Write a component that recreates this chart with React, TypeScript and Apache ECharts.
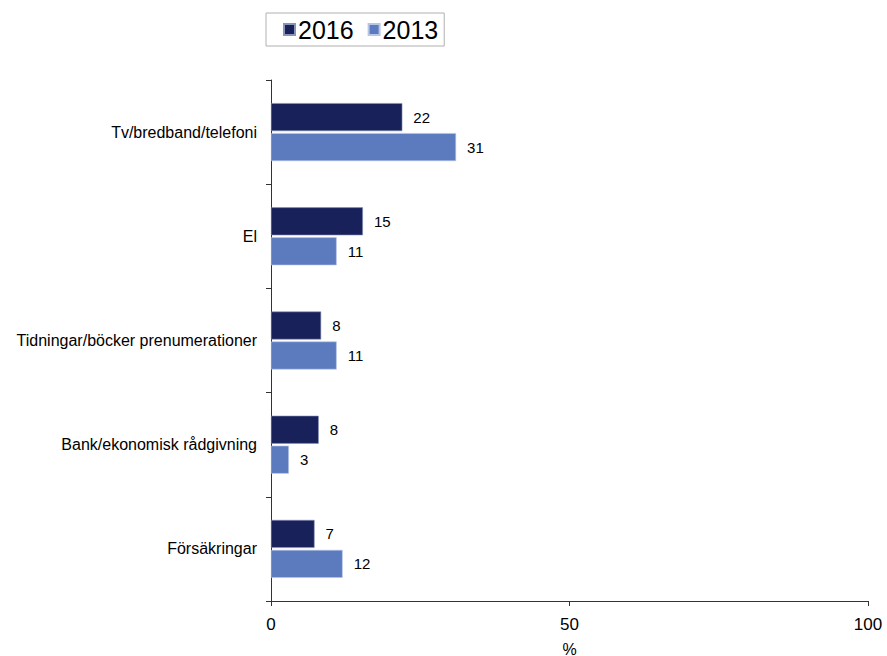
import React, { useEffect, useRef } from "react";
import * as echarts from "echarts";

const categories = [
  "Tv/bredband/telefoni",
  "El",
  "Tidningar/böcker prenumerationer",
  "Bank/ekonomisk rådgivning",
  "Försäkringar",
];
const values2016 = [22, 15.4, 8.4, 8, 7.3];
const values2013 = [31, 11, 11, 3, 12];
const xTicks = [0, 50, 100];

const FONT = "Liberation Sans, Arial, sans-serif";

export default function App() {
  const ref = useRef<HTMLDivElement>(null);
  useEffect(() => {
    if (!ref.current) return;
    const chart = echarts.init(ref.current, undefined, { renderer: "svg" });
    const label = {
      show: true,
      position: "right" as const,
      distance: 11,
      color: "#000",
      fontSize: 15,
      fontFamily: FONT,
      formatter: (p: any) => String(Math.round(p.value)),
    };
    chart.setOption({
      animation: false,
      textStyle: { fontFamily: FONT },
      legend: {
        left: 266,
        top: 13,
        padding: [4, 6, 4, 17],
        borderColor: "#b0b0b0",
        borderWidth: 1,
        itemWidth: 11,
        itemHeight: 11,
        itemGap: 14,
        icon: "rect",
        textStyle: { fontSize: 25, color: "#000", fontFamily: FONT, padding: [0, 0, 0, -2] },
        data: ["2016", "2013"],
      },
      grid: {
        left: 271,
        right: 19,
        top: 80,
        bottom: 55,
        containLabel: false,
        outerBoundsMode: "none",
      },
      xAxis: {
        type: "value",
        min: xTicks[0],
        max: xTicks[xTicks.length - 1],
        interval: 50,
        name: "%",
        nameLocation: "middle",
        nameGap: 40,
        nameTextStyle: { fontSize: 16, color: "#000", fontFamily: FONT },
        axisLine: { show: true, lineStyle: { color: "#333", width: 1 } },
        axisTick: { show: true, length: 5, lineStyle: { color: "#333" } },
        axisLabel: { fontSize: 17, color: "#000", margin: 15, fontFamily: FONT },
        splitLine: { show: false },
      },
      yAxis: {
        type: "category",
        data: categories,
        inverse: true,
        axisLine: { show: true, lineStyle: { color: "#333", width: 1 } },
        axisTick: { show: true, length: 5, lineStyle: { color: "#333" } },
        axisLabel: { fontSize: 16, color: "#000", margin: 14, fontFamily: FONT },
      },
      series: [
        {
          name: "2016",
          type: "bar",
          data: values2016,
          barWidth: 28,
          barGap: "7%",
          itemStyle: { color: "#18215a", borderColor: "#8a93b8", borderWidth: 0.6 },
          label,
        },
        {
          name: "2013",
          type: "bar",
          data: values2013,
          barWidth: 28,
          barGap: "7%",
          itemStyle: { color: "#5c7bbf", borderColor: "#b8c6e6", borderWidth: 0.6 },
          label,
        },
      ],
    });
    return () => chart.dispose();
  }, []);
  return <div ref={ref} style={{ width: 887, height: 656, position: "absolute", left: 0, top: 0 }} />;
}
